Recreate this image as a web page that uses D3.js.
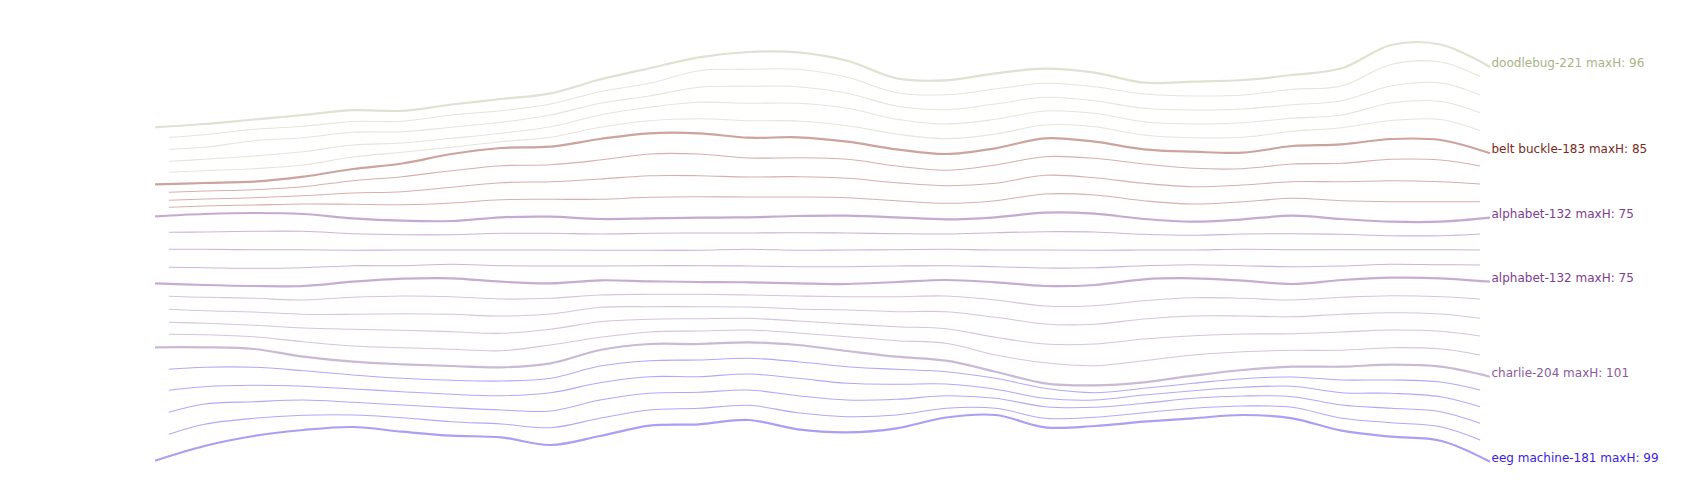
<!DOCTYPE html>
<html><head><meta charset="utf-8">
<script src="https://cdn.jsdelivr.net/npm/d3@7"></script>
<style>
html,body{margin:0;padding:0;background:#fff;}
svg{display:block;}
</style></head>
<body>
<svg id="chart" width="1700" height="500"></svg>
<script>
// sample positions (index along the series)
const steps = d3.range(28);
const thinSpan = [0.28, 26.8];

// key series (labelled)
const doodlebug   = [127.3,124,119.5,115,110.2,110.8,104.5,99,93.3,79.5,68.3,57.3,52,52.3,60.7,78.3,80.3,73.3,68.7,72.7,82.7,81.7,80,75,68.3,45,44.5,67];
const beltBuckle  = [184.3,183,181.7,176.7,169,163.5,154,148,146.7,139,133.3,133.3,137.7,137.3,141.7,149.3,154,148.3,138.3,141.7,149.3,151.7,152.7,146,144.3,139,140,153.3];
const alphabetA   = [216.3,214,213,214,218.3,220.7,221,217.3,216.7,219,218.3,217.7,217.3,216,215.7,217.3,219.3,217.3,212.7,213.7,219,221.7,219.3,215.7,219,221.7,221.7,217.7];
const alphabetB   = [283.3,285,286,286,281.7,278.7,278.3,281.7,283.3,280.3,281.3,282,282.3,283.3,284,282,280,282.3,286,285,279.3,278.3,280.7,284,280,277.7,278.3,281.7];
const charlie     = [347.3,347.3,349,356.7,361.7,364.3,366,367.3,363.3,350,344,344,342.3,345,351,356.7,360.7,371.7,383.3,385.3,382.3,375.7,370,366.7,366.7,364.7,366.7,376.7];
const eegMachine  = [460.7,446,436,430,427,431.7,435.7,437.3,445,436,425.7,424.3,420,429.3,432.3,428.3,417.5,415,427.3,426,421.7,418.3,415,418.3,430.7,436.7,440.7,461.7];

// in-between series
const t1 = [137.3,134.7,129.3,126.3,121.5,121.3,115,110.7,104,91.7,83.3,70.7,69.3,69.3,77.3,92.7,94.7,89,83.3,86.7,94,96,95,89.3,86,64.5,62,76.7];
const t2 = [149.3,147.3,140.7,137.7,132.3,131.7,127.3,122.3,115,103.3,96,87.3,86.3,86.7,93.3,106,109.7,104,97.3,100.7,108.3,110,109,104.7,100.7,86,83,95];
const t3 = [161.3,159.3,156,151.7,145,143,138.3,133.3,126.7,115,107.3,102.3,103.3,103.3,108.3,119.3,124,119.3,111,113.3,121.7,124,122.7,118.3,115,103,101.5,112.7];
const t4 = [172.3,170.7,168.7,165,157,152.3,147.3,141.7,137.3,127.3,120.7,118.7,120.7,121,125.7,134,138.7,134,125,126.7,135,137.7,137.3,131.3,127.7,120.5,119.5,130.7];
const t6 = [192.3,191,189.7,186.7,180.7,176.7,170.7,165.7,164.7,160,154,154,158,157.7,159.3,166,170.3,165,156.7,158.3,164,168.3,168.7,164,163.3,159.3,160,166];
const t7 = [200.3,199,197.7,195.7,193,191.7,187.3,182.7,181.7,179,175.7,175.7,177,176.7,178.3,182.7,185.7,183.3,175.3,177.7,183.3,186.7,185,181.7,181.7,180.7,181.7,184];
const t8 = [207.3,206,205,204,204.3,204.7,203,199.7,199.3,199.3,197.3,196.7,197,197,197.7,200.7,203.3,200.7,194,195,200.7,204,201.7,198.3,200.7,201.7,201.7,201.7];
const t10 = [232.3,232,231.3,231.3,233.7,234.7,234.7,233.3,233.3,234,233.3,233,233,232.7,233,233.7,234,232.7,231.7,232,234.3,235.3,234,233.7,234.3,235.7,235.7,234];
const t11 = [249.3,249.3,249.7,249.7,250.3,250,250,250,250,250.3,250.3,250.3,249.3,250.3,250,249.7,249.3,250,250,250.3,250,250,249.3,249.7,249.7,249.7,249.7,250];
const t12 = [267.3,267.7,268.3,267.7,265.7,265.7,264.3,265.7,266,266,265.7,265.7,266,266.7,266.7,266,265.7,266.7,268,267.7,265.7,264.7,265.7,266.7,266,264.3,264.7,265];
const t14 = [296.3,297.3,298.3,300,297.3,296,296.7,299,298.3,295,294.3,294.3,295,296,296.7,296.7,296,300,306,305.7,300.7,297.7,298.3,300,297.3,295.7,296.7,299];
const t15 = [309.3,310.7,312,314.3,314.3,313.7,314.3,316,314,307.3,306.7,306.7,307,309,310,311.7,311.7,317.3,324,324.3,319,316,316,316.7,314.3,312.7,314,318.3];
const t16 = [322.3,323.3,325.3,328,329.3,330.3,331.7,333.3,329.3,321.7,319.3,318.7,318.3,321,324,326.7,328.7,337.3,344,344,339,335.7,334,333.7,332,330,331.3,336];
const t17 = [334.3,334.7,336.7,341.7,346,347.7,349.3,350.7,345,337.3,332,331,330,333,336.7,340.7,343.3,355,362.7,365.7,360.7,355,351.7,350.3,350.3,347.7,349,355];
const t19 = [369.3,367.3,367.3,370.7,375,378.3,380.3,381,378.3,366,360.7,360,358.3,361.7,366.7,369.3,371.7,378.3,388.3,392.7,388.3,383.3,378.7,377,380,380,382,390];
const t20 = [390.3,386.7,385.3,386.3,389,391.7,394.3,395.7,392.7,382.7,376.7,376.7,374,378.3,383.3,384.3,384,389.3,398.3,400,395,390.7,387.3,386.3,392.7,393.3,396.7,406.7];
const t21 = [412.3,404,401.7,400,402.3,405,407.7,410,411,400,393.3,392.3,390,395.7,400,399.3,395.7,398.3,406.7,407.3,403.3,398.3,396,396.7,405,408.3,411.7,423.3];
const t22 = [434.3,424.3,418.3,415.3,415,417.7,421.7,424,427.7,418.3,410,408.3,405.3,412.7,416.7,415,408.3,408.3,418.3,417.3,412.7,408.3,406,407.3,418.3,422.7,426.7,440];

const keyNames = ["doodlebug-221 maxH: 96","belt buckle-183 maxH: 85","alphabet-132 maxH: 75","alphabet-132 maxH: 75","charlie-204 maxH: 101","eeg machine-181 maxH: 99"];
const keyValues = [doodlebug, beltBuckle, alphabetA, alphabetB, charlie, eegMachine];
const keyLineColors = ["#dfe1d1","#cda39d","#c6a9d2","#c6acd3","#cbb8d4","#ab9ef3"];
const keyTextColors = ["#aab387","#7a2a1a","#7d3d8e","#7d3d8e","#8a5a9c","#3a1ee0"];

const thinValues = [t1,t2,t3,t4,t6,t7,t8,t10,t11,t12,t14,t15,t16,t17,t19,t20,t21,t22];
const thinColors = ["#e4e6d9","#e4e6d9","#e4e6d9","#e4e6d9",
  "#d6b0aa","#d6b0aa","#d6b0aa",
  "#cdb3da","#cdb3da","#cdb3da",
  "#d4c4dc","#d4c4dc","#d4c4dc","#d4c4dc",
  "#b3a8f6","#b3a8f6","#b3a8f6","#b3a8f6"];

const svg = d3.select("#chart");
const x = d3.scaleLinear().domain([0, 27]).range([155, 1490]);
const y = d3.scaleLinear().domain([0, 500]).range([0, 500]);

const line = d3.line().x(d => x(d[0])).y(d => y(d[1])).curve(d3.curveCatmullRom.alpha(0.5));

function thinPoints(vals) {
  return vals.map((v, i) => {
    let t = steps[i];
    if (i === 0) t = thinSpan[0];
    if (i === vals.length - 1) t = thinSpan[1];
    return [t, v];
  });
}

svg.append("g").selectAll("path").data(thinValues).join("path")
  .attr("d", v => line(thinPoints(v)))
  .attr("fill", "none")
  .attr("stroke", (v, i) => thinColors[i])
  .attr("stroke-width", 1.1);

svg.append("g").selectAll("path").data(keyValues).join("path")
  .attr("d", v => line(v.map((d, i) => [steps[i], d])))
  .attr("fill", "none")
  .attr("stroke", (v, i) => keyLineColors[i])
  .attr("stroke-width", 2.2);

svg.append("g").selectAll("text").data(keyValues).join("text")
  .attr("x", x(27) + 1.5)
  .attr("y", v => y(v[v.length - 1]))
  .attr("fill", (v, i) => keyTextColors[i])
  .attr("font-family", "DejaVu Sans, sans-serif")
  .attr("font-size", "12px")
  .text((v, i) => keyNames[i]);
</script>
</body></html>
